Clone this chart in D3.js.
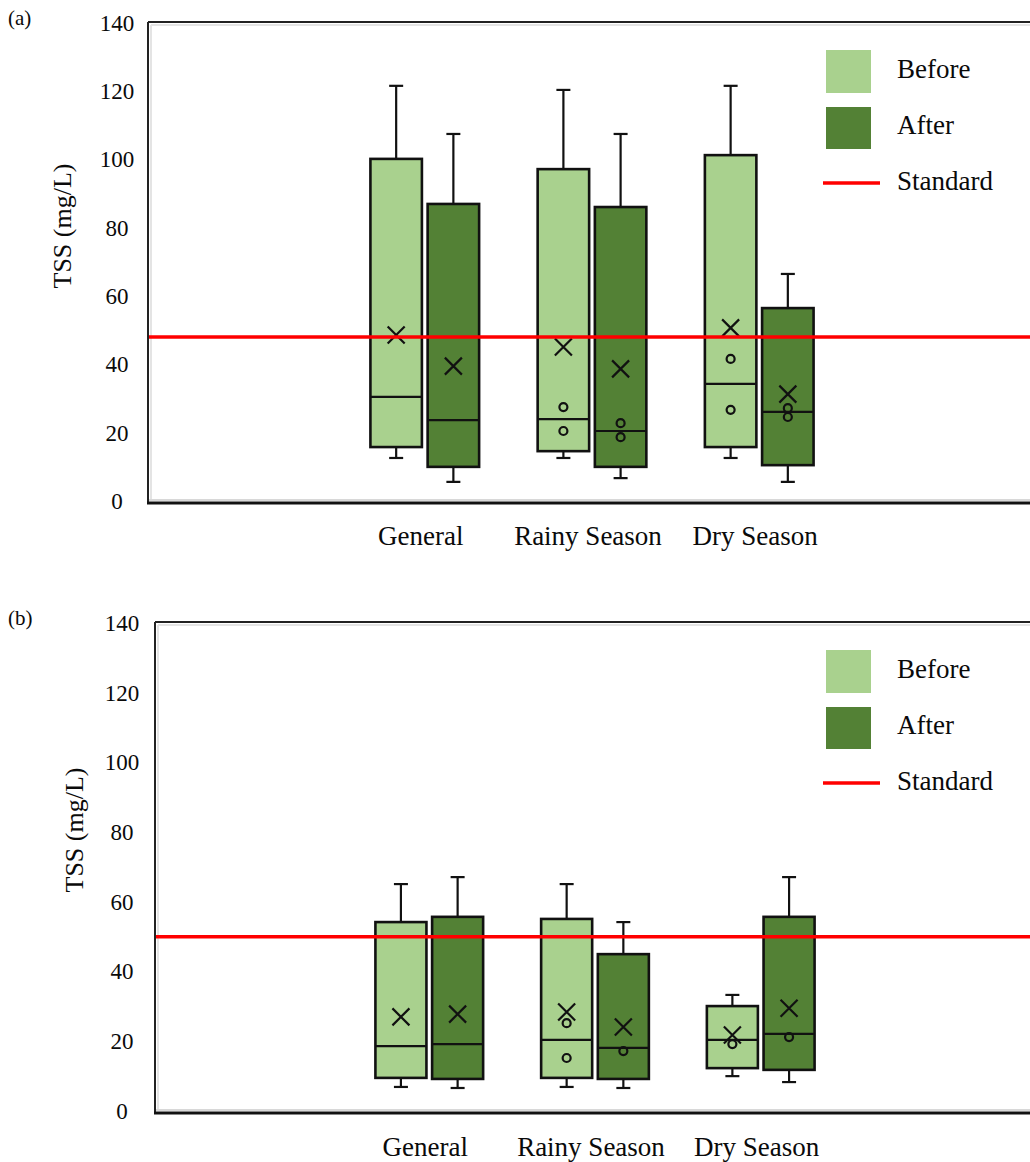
<!DOCTYPE html>
<html>
<head>
<meta charset="utf-8">
<script src="https://cdn.jsdelivr.net/npm/d3@7"></script>
<style>
  body { margin: 0; background: #fff; }
  text { font-family: "Liberation Serif", "Times New Roman", serif; fill: #0a0a0a; }
</style>
</head>
<body>
<div id="chart"></div>
<script>
// ---- data ----
var categories = ["General", "Rainy Season", "Dry Season"];
var seriesNames = ["Before", "After"];
var yTicks = [0, 20, 40, 60, 80, 100, 120, 140];
var legendLabels = ["Before", "After", "Standard"];

// panel (a): min, q1, median, q3, max, mean, outliers
var aBefore = [
  {min: 12.6, q1: 15.8, median: 30.5, q3: 100.2, max: 121.6, mean: 48.6, outliers: []},
  {min: 12.6, q1: 14.6, median: 24.0, q3: 97.2, max: 120.4, mean: 45.1, outliers: [27.5, 20.5]},
  {min: 12.6, q1: 15.8, median: 34.3, q3: 101.3, max: 121.6, mean: 50.7, outliers: [41.6, 26.7]}
];
var aAfter = [
  {min: 5.6, q1: 10.0, median: 23.7, q3: 87.0, max: 107.5, mean: 39.5, outliers: []},
  {min: 6.7, q1: 10.0, median: 20.5, q3: 86.1, max: 107.5, mean: 38.7, outliers: [22.8, 18.7]},
  {min: 5.6, q1: 10.5, median: 26.1, q3: 56.5, max: 66.5, mean: 31.3, outliers: [27.2, 24.6]}
];
var aStandard = 48;

// panel (b)
var bBefore = [
  {min: 6.9, q1: 9.5, median: 18.6, q3: 54.2, max: 65.1, mean: 27.0, outliers: []},
  {min: 6.9, q1: 9.5, median: 20.4, q3: 55.1, max: 65.1, mean: 28.4, outliers: [25.2, 15.2]},
  {min: 10.0, q1: 12.3, median: 20.4, q3: 30.1, max: 33.3, mean: 21.8, outliers: [19.2]}
];
var bAfter = [
  {min: 6.6, q1: 9.2, median: 19.2, q3: 55.7, max: 67.1, mean: 27.8, outliers: []},
  {min: 6.6, q1: 9.2, median: 18.1, q3: 45.0, max: 54.2, mean: 24.1, outliers: [17.2]},
  {min: 8.3, q1: 11.8, median: 22.1, q3: 55.7, max: 67.1, mean: 29.5, outliers: [21.2]}
];
var bStandard = 50;

var colors = {Before: "#a9d18e", After: "#538135"};

var svg = d3.select("#chart")
  .append("svg")
  .attr("width", 1030)
  .attr("height", 1162);

function drawPanel(tag, before, after, standard, box) {
  var g = svg.append("g");

  var x = d3.scaleBand()
    .domain(categories)
    .range([box.left, box.right])
    .paddingInner(0.35)
    .paddingOuter(1.33);

  var xs = d3.scaleBand()
    .domain(seriesNames)
    .range([0, x.bandwidth()])
    .paddingInner(0.1);

  var y = d3.scaleLinear()
    .domain([0, 140])
    .range([box.zero, box.top140]);

  // frame: shadow + lines
  g.append("line").attr("x1", box.left + 3).attr("x2", 1030).attr("y1", box.frameTop + 3).attr("y2", box.frameTop + 3)
    .attr("stroke", "#e4e4e4").attr("stroke-width", 2);
  g.append("line").attr("x1", box.left + 3).attr("x2", box.left + 3).attr("y1", box.frameTop + 3).attr("y2", box.frameBottom - 2)
    .attr("stroke", "#e4e4e4").attr("stroke-width", 2);
  g.append("line").attr("x1", box.left).attr("x2", 1030).attr("y1", box.frameBottom - 3).attr("y2", box.frameBottom - 3)
    .attr("stroke", "#d8d8d8").attr("stroke-width", 2);

  g.append("line").attr("x1", box.left).attr("x2", 1030).attr("y1", box.frameTop).attr("y2", box.frameTop)
    .attr("stroke", "#222").attr("stroke-width", 2);
  g.append("line").attr("x1", box.left).attr("x2", box.left).attr("y1", box.frameTop).attr("y2", box.frameBottom)
    .attr("stroke", "#222").attr("stroke-width", 2);
  g.append("line").attr("x1", box.left - 1).attr("x2", 1030).attr("y1", box.frameBottom).attr("y2", box.frameBottom)
    .attr("stroke", "#111").attr("stroke-width", 3);

  // y axis labels
  var yAxis = g.append("g")
    .attr("transform", "translate(" + box.left + ",0)")
    .call(d3.axisLeft(y).tickValues(yTicks).tickSize(0).tickFormat(d3.format("d")));
  yAxis.select(".domain").remove();
  yAxis.selectAll("text")
    .attr("x", -box.labelOffset)
    .attr("text-anchor", "middle")
    .attr("font-size", "23px")
    .attr("font-family", "Liberation Serif")
    .attr("fill", "#0a0a0a");

  g.append("text")
    .attr("transform", "translate(" + box.titleX + "," + box.titleY + ") rotate(-90)")
    .attr("text-anchor", "middle")
    .attr("font-size", "26px")
    .attr("fill", "#333")
    .text("TSS (mg/L)");

  g.append("text")
    .attr("x", 8)
    .attr("y", box.frameTop + 3)
    .attr("font-size", "21px")
    .text(tag);

  // category labels
  g.selectAll(".cat")
    .data(categories)
    .enter().append("text")
    .attr("class", "cat")
    .attr("x", function(d) { return x(d) + x.bandwidth() / 2 - 4; })
    .attr("y", box.catY)
    .attr("text-anchor", "middle")
    .attr("font-size", "27px")
    .text(function(d) { return d; });

  var rows = [];
  categories.forEach(function(c, i) {
    rows.push({cat: c, series: "Before", s: before[i]});
    rows.push({cat: c, series: "After", s: after[i]});
  });

  var bg = g.selectAll(".box")
    .data(rows)
    .enter().append("g")
    .attr("class", "box")
    .attr("transform", function(d) { return "translate(" + (x(d.cat) + xs(d.series)) + ",0)"; });

  var bw = xs.bandwidth();
  var cw = 14;

  // whiskers
  bg.append("line")
    .attr("x1", bw / 2).attr("x2", bw / 2)
    .attr("y1", function(d) { return y(d.s.max); })
    .attr("y2", function(d) { return y(d.s.q3); })
    .attr("stroke", "#111").attr("stroke-width", 2.2);
  bg.append("line")
    .attr("x1", bw / 2).attr("x2", bw / 2)
    .attr("y1", function(d) { return y(d.s.q1); })
    .attr("y2", function(d) { return y(d.s.min); })
    .attr("stroke", "#111").attr("stroke-width", 2.2);
  bg.append("line")
    .attr("x1", bw / 2 - cw / 2).attr("x2", bw / 2 + cw / 2)
    .attr("y1", function(d) { return y(d.s.max); })
    .attr("y2", function(d) { return y(d.s.max); })
    .attr("stroke", "#111").attr("stroke-width", 2.2);
  bg.append("line")
    .attr("x1", bw / 2 - cw / 2).attr("x2", bw / 2 + cw / 2)
    .attr("y1", function(d) { return y(d.s.min); })
    .attr("y2", function(d) { return y(d.s.min); })
    .attr("stroke", "#111").attr("stroke-width", 2.2);

  bg.append("rect")
    .attr("x", 0)
    .attr("width", bw)
    .attr("y", function(d) { return y(d.s.q3); })
    .attr("height", function(d) { return y(d.s.q1) - y(d.s.q3); })
    .attr("fill", function(d) { return colors[d.series]; })
    .attr("stroke", "#111").attr("stroke-width", 2.6);

  bg.append("line")
    .attr("x1", 0).attr("x2", bw)
    .attr("y1", function(d) { return y(d.s.median); })
    .attr("y2", function(d) { return y(d.s.median); })
    .attr("stroke", "#111").attr("stroke-width", 2.2);

  // mean cross
  var m = 8.5;
  bg.append("path")
    .attr("d", function(d) {
      var cy = y(d.s.mean), cx = bw / 2;
      return "M" + (cx - m) + "," + (cy - m) + "L" + (cx + m) + "," + (cy + m) +
             "M" + (cx - m) + "," + (cy + m) + "L" + (cx + m) + "," + (cy - m);
    })
    .attr("stroke", "#111").attr("stroke-width", 2.2).attr("fill", "none");

  bg.selectAll(".out")
    .data(function(d) { return d.s.outliers; })
    .enter().append("circle")
    .attr("class", "out")
    .attr("cx", bw / 2)
    .attr("cy", function(d) { return y(d); })
    .attr("r", 4)
    .attr("fill", "none")
    .attr("stroke", "#111").attr("stroke-width", 2.2);

  // standard line
  g.append("line")
    .attr("x1", box.left + 1).attr("x2", 1030)
    .attr("y1", y(standard)).attr("y2", y(standard))
    .attr("stroke", "#ff0000").attr("stroke-width", 3.5);

  // legend
  var lg = g.append("g").attr("transform", "translate(826," + box.frameTop + ")");
  lg.append("rect").attr("x", 0).attr("y", 28).attr("width", 45).attr("height", 43).attr("fill", colors.Before);
  lg.append("rect").attr("x", 0).attr("y", 85).attr("width", 45).attr("height", 42).attr("fill", colors.After);
  lg.append("line").attr("x1", -3).attr("x2", 54).attr("y1", 161).attr("y2", 161)
    .attr("stroke", "#ff0000").attr("stroke-width", 3.5);
  lg.selectAll(".lt")
    .data(legendLabels)
    .enter().append("text")
    .attr("class", "lt")
    .attr("x", 71)
    .attr("y", function(d, i) { return [56, 112, 168][i]; })
    .attr("font-size", "27px")
    .text(function(d) { return d; });
}

drawPanel("(a)", aBefore, aAfter, aStandard,
  {left: 148, right: 1036, frameTop: 22, frameBottom: 503, zero: 501, top140: 23,
   labelOffset: 31, titleX: 71, titleY: 226, catY: 545});

drawPanel("(b)", bBefore, bAfter, bStandard,
  {left: 155, right: 1035, frameTop: 622, frameBottom: 1113, zero: 1111, top140: 623,
   labelOffset: 33, titleX: 83, titleY: 830, catY: 1156});
</script>
</body>
</html>
